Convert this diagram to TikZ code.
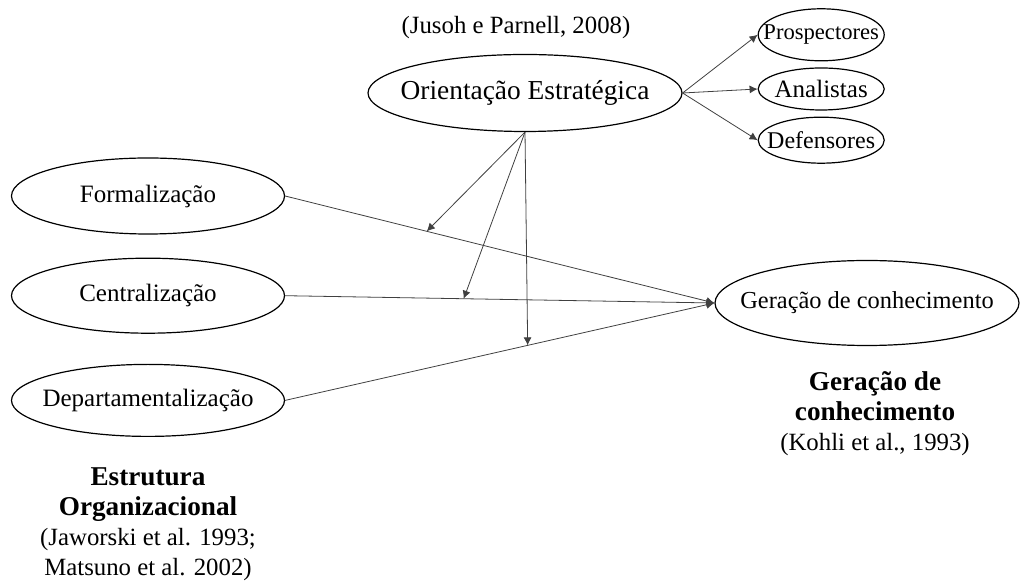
\documentclass[tikz,border=0pt]{standalone}
\usepackage{fontspec}
\setmainfont{Liberation Serif}
\usepackage{tikz}
\usetikzlibrary{positioning, arrows, arrows.meta, shapes.geometric}
\tikzset{
oval/.style={
  draw,
  ellipse,
  line width=0.6pt,
  inner xsep=-12pt,
  inner ysep=0pt,
  minimum width=136.5pt,
  minimum height=38pt,
  font=\fontsize{12.5}{15}\selectfont
  },
smalloval/.style={
  oval,
  minimum width=63pt,
  minimum height=23pt
  },
textlbl/.style={
  align=center,
  font=\fontsize{12.4}{15}\selectfont
  },
line/.style={-{Latex[length=4pt,width=4pt]},line width=0.4pt,draw=black!75}
}

\begin{document}
\begin{tikzpicture}
\useasboundingbox (0pt,0pt) rectangle (510pt,-290.5pt);

\node[oval]	(orient)	[minimum width=157pt, minimum height=38.5pt, font=\fontsize{13.7}{16}\selectfont]	at (262.5pt,-46.5pt)	{Orientação Estratégica};
\node[textlbl]	(jusoh)		[above=4pt of orient, xshift=-4.5pt]		{(Jusoh e Parnell, 2008)};
\node[smalloval]	(analistas)	[right=37.5pt of orient, yshift=2pt, minimum height=21pt]	{Analistas};
\node[smalloval]	(prospect)	[above=3pt of analistas, minimum height=26pt, font=\fontsize{11.3}{14}\selectfont]	{Prospectores};
\node[smalloval]	(defens)	[below=3pt of analistas, font=\fontsize{12}{14}\selectfont]	{Defensores};

\node[oval]	(formal)	at (74pt,-98pt)		{Formalização};
\node[oval]	(central)	[below=11.5pt of formal, minimum height=37.5pt]	{Centralização};
\node[oval]	(depart)	[below=15pt of central, minimum height=36pt]	{Departamentalização};
\node[oval]	(geracao)	[minimum width=152pt, minimum height=42.5pt, font=\fontsize{12.2}{15}\selectfont]	at (433.5pt,-151.5pt)	{Geração de conhecimento};

\node[textlbl]	(geracaolbl)	[below=9pt of geracao, xshift=4pt]	{\fontsize{13.6}{17.5}\selectfont\bfseries Geração de\\ \fontsize{13.6}{17.5}\selectfont\bfseries conhecimento\\ \fontsize{12.4}{14}\selectfont (Kohli et al., 1993)};
\node[textlbl]	(estrutlbl)	[below=12pt of depart]		{\fontsize{13.6}{16.5}\selectfont\bfseries Estrutura\\ \fontsize{13.6}{16.5}\selectfont\bfseries Organizacional\\ (Jaworski et al. 1993;\\ Matsuno et al. 2002)};

\draw[line] 	(orient.east) 		--	(prospect.west);
\draw[line] 	(orient.east) 		--	(analistas.west);
\draw[line] 	(orient.east) 		--	(defens.west);
\draw[line] 	(formal.east) 		--	coordinate[pos=0.33] (formalmid)	(geracao.west);
\draw[line] 	(central.east) 		--	coordinate[pos=0.416] (centralmid)	(geracao.west);
\draw[line] 	(depart.east) 		--	coordinate[pos=0.565] (departmid)	(geracao.west);
\draw[line] 	(orient.south) 		--	(formalmid);
\draw[line] 	(orient.south) 		--	(centralmid);
\draw[line] 	(orient.south) 		--	(departmid);
\end{tikzpicture}
\end{document}
